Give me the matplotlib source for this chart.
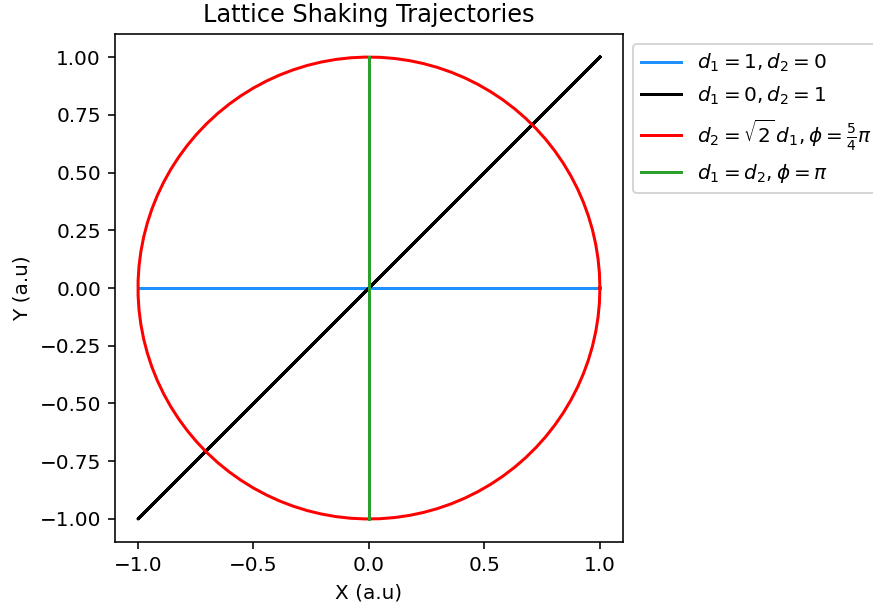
import numpy as np
import matplotlib.pyplot as plt

# shaking amplitudes along x / y and relative phase for each trajectory
labels = [r'$d_1=1, d_2=0$',
          r'$d_1=0, d_2=1$',
          r'$d_2=\sqrt{2}\,d_1, \phi=\frac{5}{4}\pi$',
          r'$d_1=d_2, \phi=\pi$']
amp_x = [1.0, 1.0, 1.0, 0.0]
amp_y = [0.0, 1.0, 1.0, 1.0]
phase = [0.0, 0.0, np.pi / 2, 0.0]
colors = ['dodgerblue', 'black', 'red', 'tab:green']

t = np.linspace(0, 2 * np.pi, 100)

dpi = 144
fig = plt.figure(figsize=(873 / dpi, 609 / dpi), dpi=dpi)
ax = fig.add_axes([115 / 873, 1 - 543 / 609, 508 / 873, 510 / 609])

for lab, a, b, p, c in zip(labels, amp_x, amp_y, phase, colors):
    ax.plot(a * np.cos(t), b * np.cos(t - p), color=c, label=lab)

ax.set_aspect('equal')
ax.set_title('Lattice Shaking Trajectories')
ax.set_xlabel('X (a.u)')
ax.set_ylabel('Y (a.u)')
ax.legend(loc='upper left', bbox_to_anchor=(1, 1))

fig.savefig('out.png', dpi=dpi)
